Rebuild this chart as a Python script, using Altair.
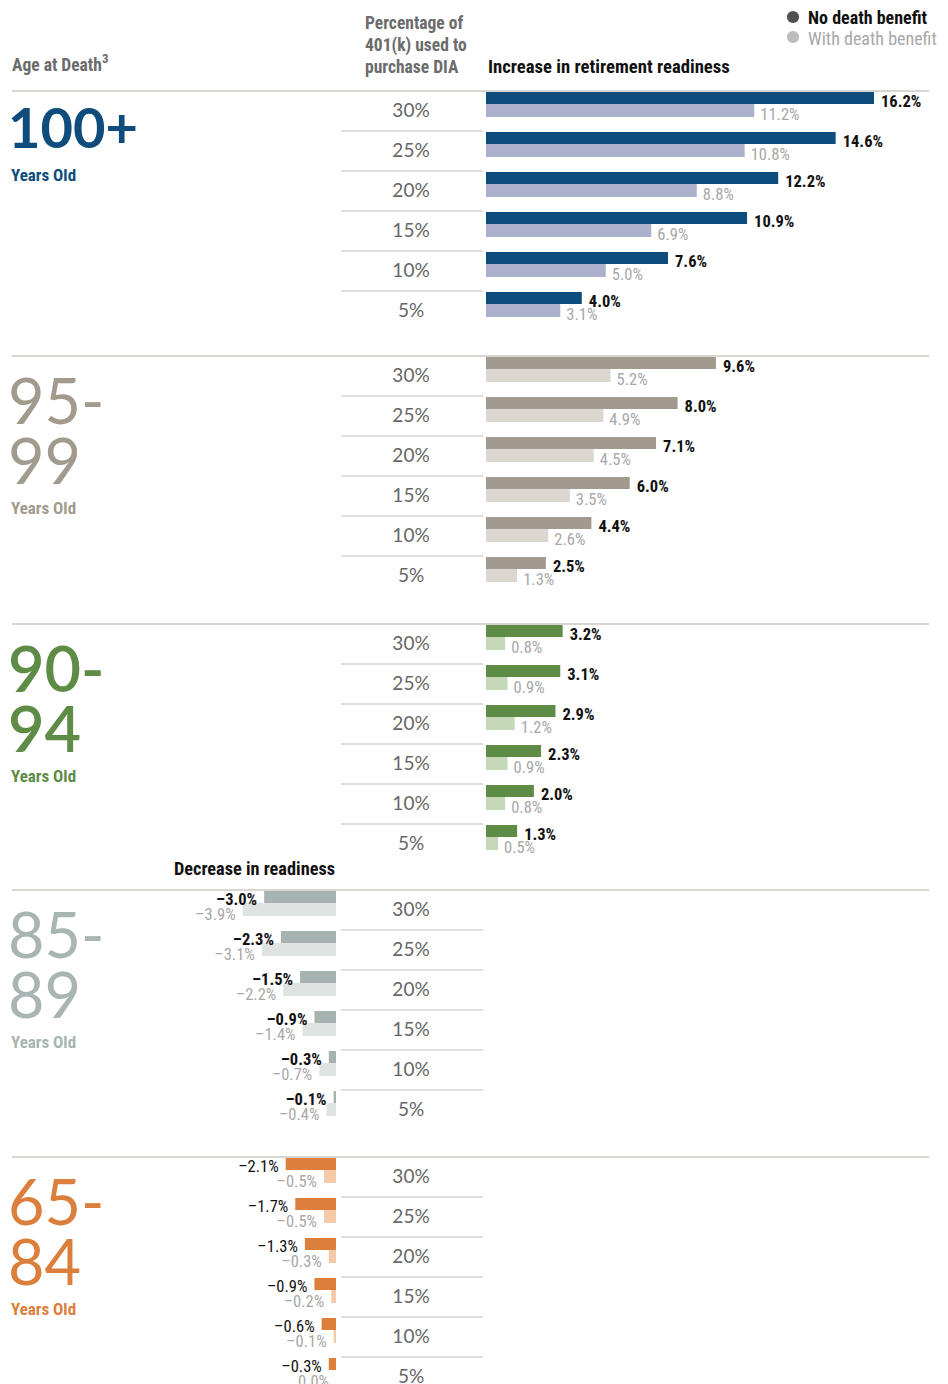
import altair as alt
import pandas as pd

# ---------------- data ----------------
age_groups = ["100+", "95-99", "90-94", "85-89", "65-84"]
dia_pcts = ["30%", "25%", "20%", "15%", "10%", "5%"]

no_db_100 = [16.2, 14.6, 12.2, 10.9, 7.6, 4.0]
with_db_100 = [11.2, 10.8, 8.8, 6.9, 5.0, 3.1]
no_db_95 = [9.6, 8.0, 7.1, 6.0, 4.4, 2.5]
with_db_95 = [5.2, 4.9, 4.5, 3.5, 2.6, 1.3]
no_db_90 = [3.2, 3.1, 2.9, 2.3, 2.0, 1.3]
with_db_90 = [0.8, 0.9, 1.2, 0.9, 0.8, 0.5]
no_db_85 = [-3.0, -2.3, -1.5, -0.9, -0.3, -0.1]
with_db_85 = [-3.9, -3.1, -2.2, -1.4, -0.7, -0.4]
no_db_65 = [-2.1, -1.7, -1.3, -0.9, -0.6, -0.3]
with_db_65 = [-0.5, -0.5, -0.3, -0.2, -0.1, 0.0]

no_db = [no_db_100, no_db_95, no_db_90, no_db_85, no_db_65]
with_db = [with_db_100, with_db_95, with_db_90, with_db_85, with_db_65]

# ---------------- styles ----------------
dark_colors = ["#0d4c7c", "#a29a8f", "#5e8c46", "#a6b3b0", "#dc7f3c"]
light_colors = ["#abb0cc", "#dbd6d0", "#c5d8b7", "#dfe3e2", "#f4cba8"]
title_colors = ["#0d4c7c", "#a39a8e", "#5e8c46", "#a8b5b2", "#dc7f3c"]
title_weights = ["bold", "normal", 600, "normal", "normal"]

COND = "Roboto Condensed, Liberation Sans Narrow, DejaVu Sans Condensed, sans-serif"
HUM = "Lato, Open Sans, sans-serif"

# ---------------- layout ----------------
W, H = 930, 1376
PX_PER_PCT = 23.95
POS_ZERO = 486
NEG_ZERO = 336
group_tops = [91, 356, 624, 890, 1157]
ROW_H = 40


def xu(sx):
    return (sx - POS_ZERO) / PX_PER_PCT


NEG_OFF = xu(NEG_ZERO)

x_scale = alt.Scale(domain=[xu(8), xu(8 + W)], nice=False, zero=False)
y_scale = alt.Scale(domain=[8, 8 + H], nice=False, zero=False, reverse=True)


def enc(chart, text=True, color=False):
    kw = dict(
        x=alt.X("x:Q", scale=x_scale, axis=None),
        y=alt.Y("y:Q", scale=y_scale, axis=None),
    )
    if text:
        kw["text"] = alt.Text("t:N")
    if color:
        kw["color"] = alt.Color("c:N", scale=None)
    return chart.encode(**kw)


bars = []
lab = {"pos_dark": [], "pos_light": [], "neg_dark_b": [], "neg_dark_r": [], "neg_light": []}


def fmt(v):
    return ("–" if v < 0 else "") + f"{abs(v):.1f}%"


for gi in range(5):
    negative = gi >= 3
    for ri in range(6):
        top = group_tops[gi] + ri * ROW_H
        for kind, vals, y0, y1, col in (
            ("dark", no_db, top + 1, top + 13, dark_colors[gi]),
            ("light", with_db, top + 13, top + 26, light_colors[gi]),
        ):
            v = vals[gi][ri]
            if negative:
                x0, x1 = NEG_OFF + v, NEG_OFF
            else:
                x0, x1 = 0.0, v
            bars.append(dict(x=x0, x2=x1, y=y0, y2=y1, c=col))
            if not negative:
                key = "pos_" + kind
                ly = top + 10.5 if kind == "dark" else top + 23.5
                lab[key].append(dict(x=x1, y=ly, t=fmt(v)))
            else:
                if kind == "dark":
                    key = "neg_dark_b" if gi == 3 else "neg_dark_r"
                    ly = top + 10
                else:
                    key = "neg_light"
                    ly = top + 24.5
                lab[key].append(dict(x=x0, y=ly, t=fmt(v)))

bar_layer = alt.Chart(pd.DataFrame(bars)).mark_rect().encode(
    x=alt.X("x:Q", scale=x_scale, axis=None),
    x2="x2:Q",
    y=alt.Y("y:Q", scale=y_scale, axis=None),
    y2="y2:Q",
    color=alt.Color("c:N", scale=None),
)

LFS = 16.5
label_layers = [
    enc(alt.Chart(pd.DataFrame(lab["pos_dark"])).mark_text(
        align="left", baseline="middle", dx=7, font=COND, fontSize=LFS,
        fontWeight="bold", color="#111111")),
    enc(alt.Chart(pd.DataFrame(lab["pos_light"])).mark_text(
        align="left", baseline="middle", dx=6, font=COND, fontSize=LFS,
        color="#a8a8a8")),
    enc(alt.Chart(pd.DataFrame(lab["neg_dark_b"])).mark_text(
        align="right", baseline="middle", dx=-7, font=COND, fontSize=LFS,
        fontWeight="bold", color="#111111")),
    enc(alt.Chart(pd.DataFrame(lab["neg_dark_r"])).mark_text(
        align="right", baseline="middle", dx=-7, font=COND, fontSize=LFS,
        color="#111111")),
    enc(alt.Chart(pd.DataFrame(lab["neg_light"])).mark_text(
        align="right", baseline="middle", dx=-7, font=COND, fontSize=LFS,
        color="#a8a8a8")),
]

rules = []
for gi in range(5):
    t = group_tops[gi]
    rules.append(dict(x=xu(12), x2=xu(929), y=t, c="#b3aba2"))
    for k in range(1, 6):
        rules.append(dict(x=xu(341), x2=xu(483), y=t + k * ROW_H, c="#c3bdb7"))
rule_layer = alt.Chart(pd.DataFrame(rules)).mark_rule(strokeWidth=1).encode(
    x=alt.X("x:Q", scale=x_scale, axis=None),
    x2="x2:Q",
    y=alt.Y("y:Q", scale=y_scale, axis=None),
    color=alt.Color("c:N", scale=None),
)

row_rows = []
for gi in range(5):
    for ri, p in enumerate(dia_pcts):
        row_rows.append(dict(x=xu(411), y=group_tops[gi] + ri * ROW_H + 20, t=p))
row_layer = enc(alt.Chart(pd.DataFrame(row_rows)).mark_text(
    align="center", baseline="middle", font=HUM, fontSize=19, color="#666666"))

title_layers = []
for gi, g in enumerate(age_groups):
    t = group_tops[gi]
    if gi == 0:
        rows = [dict(x=xu(8), y=t + 57, t=g)]
        fs = 56
    else:
        a, b = g.split("-")
        rows = [dict(x=xu(8), y=t + 68, t=a + "-"), dict(x=xu(8), y=t + 128, t=b)]
        fs = 63
    title_layers.append(enc(alt.Chart(pd.DataFrame(rows)).mark_text(
        align="left", baseline="alphabetic", font=HUM, fontSize=fs,
        fontWeight=title_weights[gi], color=title_colors[gi])))
    yo = t + 90 if gi == 0 else t + 158
    title_layers.append(enc(alt.Chart(pd.DataFrame([dict(x=xu(11), y=yo, t="Years Old")])).mark_text(
        align="left", baseline="alphabetic", font=COND, fontSize=17,
        fontWeight="bold", color=title_colors[gi])))

head_gray = enc(alt.Chart(pd.DataFrame([
    dict(x=xu(12), y=71, t="Age at Death"),
])).mark_text(align="left", baseline="alphabetic", font=COND, fontSize=17.5,
              fontWeight="bold", color="#6b6b6b"))
head_gray2 = enc(alt.Chart(pd.DataFrame([
    dict(x=xu(365), y=29, t="Percentage of"),
    dict(x=xu(365), y=51, t="401(k) used to"),
    dict(x=xu(365), y=73, t="purchase DIA"),
])).mark_text(align="left", baseline="alphabetic", font=COND, fontSize=17.5,
              fontWeight="bold", color="#6b6b6b"))
head_sup = enc(alt.Chart(pd.DataFrame([dict(x=xu(102), y=63, t="3")])).mark_text(
    align="left", baseline="alphabetic", font=COND, fontSize=13,
    fontWeight="bold", color="#6b6b6b"))
head_black = enc(alt.Chart(pd.DataFrame([
    dict(x=xu(488), y=73, t="Increase in retirement readiness"),
])).mark_text(align="left", baseline="alphabetic", font=COND, fontSize=18.7,
              fontWeight="bold", color="#111111"))
head_legend = enc(alt.Chart(pd.DataFrame([
    dict(x=xu(808), y=24, t="No death benefit"),
])).mark_text(align="left", baseline="alphabetic", font=COND, fontSize=18,
              fontWeight="bold", color="#111111"))
head_dec = enc(alt.Chart(pd.DataFrame([dict(x=xu(335), y=875, t="Decrease in readiness")])).mark_text(
    align="right", baseline="alphabetic", font=COND, fontSize=18.3,
    fontWeight="bold", color="#111111"))
head_light = enc(alt.Chart(pd.DataFrame([dict(x=xu(808), y=45, t="With death benefit")])).mark_text(
    align="left", baseline="alphabetic", font=COND, fontSize=18, color="#a8a8a8"))

legend_dots = enc(alt.Chart(pd.DataFrame([
    dict(x=xu(793), y=17, c="#505050"),
    dict(x=xu(793), y=37, c="#bcbcbc"),
])).mark_circle(size=150, opacity=1), text=False, color=True)

chart = alt.layer(
    rule_layer, bar_layer, *label_layers, row_layer, *title_layers,
    head_gray, head_gray2, head_sup, head_black, head_legend, head_dec,
    head_light, legend_dots,
).properties(
    width=W, height=H, padding=0,
    autosize=alt.AutoSizeParams(type="none"),
).configure_view(stroke=None)

chart.save("out.html", embed_options={"renderer": "svg", "actions": False})
